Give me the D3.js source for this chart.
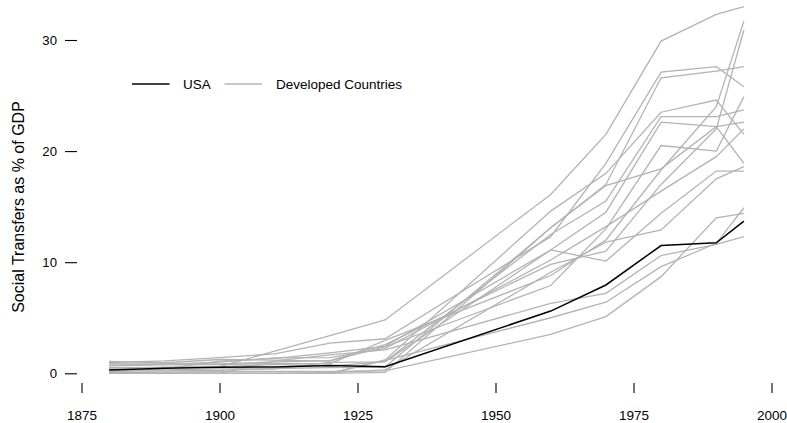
<!DOCTYPE html>
<html>
<head>
<meta charset="utf-8">
<script src="https://cdn.jsdelivr.net/npm/d3@7"></script>
<style>
  body { margin: 0; background: #fff; }
  svg { display: block; font-family: "Liberation Sans", Arial, Helvetica, sans-serif; }
</style>
</head>
<body>
<svg id="chart" width="787" height="423"></svg>
<script>
// Social transfers as % of GDP
const years = [1880, 1890, 1900, 1910, 1920, 1930, 1960, 1970, 1980, 1990, 1995];

const usa = [0.30, 0.45, 0.55, 0.56, 0.70, 0.60, 5.6, 7.95, 11.5, 11.75, 13.7];

const developed = [
  [0.50, 0.53, 0.59, 2.0, 3.4, 4.8, 16.1, 21.5, 29.9, 32.3, 33.0],
  [0.96, 1.11, 1.41, 1.75, 2.71, 3.11, 12.3, 18.9, 27.1, 27.6, 25.8],
  [0.17, 0.22, 0.26, 0.43, 0.52, 0.56, 13.1, 17.0, 26.6, 27.2, 27.6],
  [0.00, 0.00, 0.00, 0.00, 0.00, 1.20, 14.6, 18.0, 23.5, 24.6, 21.5],
  [0.46, 0.54, 0.57, 0.81, 0.64, 1.05, 12.5, 15.5, 23.1, 23.1, 23.7],
  [0.29, 0.30, 0.39, 0.39, 0.99, 1.03, 11.1, 14.5, 22.6, 22.2, 18.9],
  [1.07, 0.95, 1.24, 1.18, 1.09, 2.39, 7.9, 13.0, 20.5, 20.0, 24.9],
  [0.66, 0.76, 0.78, 0.90, 0.85, 2.97, 8.8, 12.0, 18.3, 24.0, 31.7],
  [0.72, 0.85, 0.85, 1.03, 1.14, 2.59, 9.8, 11.0, 17.0, 22.0, 30.9],
  [0.17, 0.39, 1.09, 1.35, 1.84, 2.43, 11.1, 10.1, 14.4, 18.2, 18.2],
  [0.00, 0.00, 0.00, 1.12, 1.66, 2.11, 6.3, 7.2, 10.6, 11.6, 12.3],
  [0.05, 0.11, 0.17, 0.18, 0.18, 0.21, 3.5, 5.1, 8.7, 14.0, 14.4],
  [0.00, 0.00, 0.00, 0.00, 0.06, 0.31, 9.1, 11.8, 12.9, 17.5, 18.6],
  [0.00, 0.00, 0.00, 0.00, 0.00, 0.08, 13.1, 16.9, 18.4, 22.2, 22.6],
  [0.00, 0.00, 0.00, 0.00, 0.00, 1.17, 5.0, 6.4, 9.6, 11.7, 14.9],
  [0.86, 0.83, 1.00, 1.38, 1.41, 2.24, 10.2, 13.2, 16.4, 19.5, 22.0],
];

const xTicks = [1875, 1900, 1925, 1950, 1975, 2000];
const yTicks = [0, 10, 20, 30];

const legendItems = [
  { label: 'USA', color: '#000000' },
  { label: 'Developed Countries', color: '#b3b3b3' },
];

const svg = d3.select('#chart');

const x = d3.scaleLinear().domain([1875, 2000]).range([81.5, 771.5]);
const y = d3.scaleLinear().domain([0, 30]).range([373.3, 40]);

const line = d3
  .line()
  .x((d, i) => x(years[i]))
  .y((d) => y(d));

// grey lines first so USA sits on top
svg
  .append('g')
  .selectAll('path')
  .data(developed)
  .join('path')
  .attr('d', line)
  .attr('fill', 'none')
  .attr('stroke', '#b3b3b3')
  .attr('stroke-width', 1.3);

svg
  .append('path')
  .datum(usa)
  .attr('d', line)
  .attr('fill', 'none')
  .attr('stroke', '#000')
  .attr('stroke-width', 1.5);

// axes, R-style: no domain line, detached ticks
const yAxis = svg
  .append('g')
  .attr('transform', 'translate(77,0)')
  .call(d3.axisLeft(y).tickValues(yTicks).tickSize(12).tickPadding(8));

const xAxis = svg
  .append('g')
  .attr('transform', 'translate(0,383)')
  .call(
    d3.axisBottom(x).tickValues(xTicks).tickFormat(d3.format('d')).tickSize(10).tickPadding(17)
  );

[xAxis, yAxis].forEach((g) => {
  g.select('.domain').remove();
  g.selectAll('line').attr('stroke', '#000').attr('stroke-width', 1.1);
  g.selectAll('text')
    .attr('fill', '#000')
    .style('font-size', '13.5px')
    .style('font-family', '"Liberation Sans", Arial, Helvetica, sans-serif');
});
yAxis.selectAll('text').style('font-size', '13.2px');

svg
  .append('text')
  .attr('transform', 'rotate(-90)')
  .attr('x', -207)
  .attr('y', 18)
  .attr('dy', '0.35em')
  .style('text-anchor', 'middle')
  .style('font-size', '16px')
  .text('Social Transfers as % of GDP');

// legend
const legendPos = [
  { x1: 132, x2: 169.5, tx: 183 },
  { x1: 224.5, x2: 262, tx: 276 },
];

const legend = svg
  .append('g')
  .selectAll('g')
  .data(legendItems)
  .join('g');

legend
  .append('line')
  .attr('x1', (d, i) => legendPos[i].x1)
  .attr('x2', (d, i) => legendPos[i].x2)
  .attr('y1', 84)
  .attr('y2', 84)
  .attr('stroke', (d) => d.color)
  .attr('stroke-width', 1.5);

legend
  .append('text')
  .attr('x', (d, i) => legendPos[i].tx)
  .attr('y', 84)
  .attr('dy', '0.35em')
  .style('font-size', '13.5px')
  .text((d) => d.label);
</script>
</body>
</html>
